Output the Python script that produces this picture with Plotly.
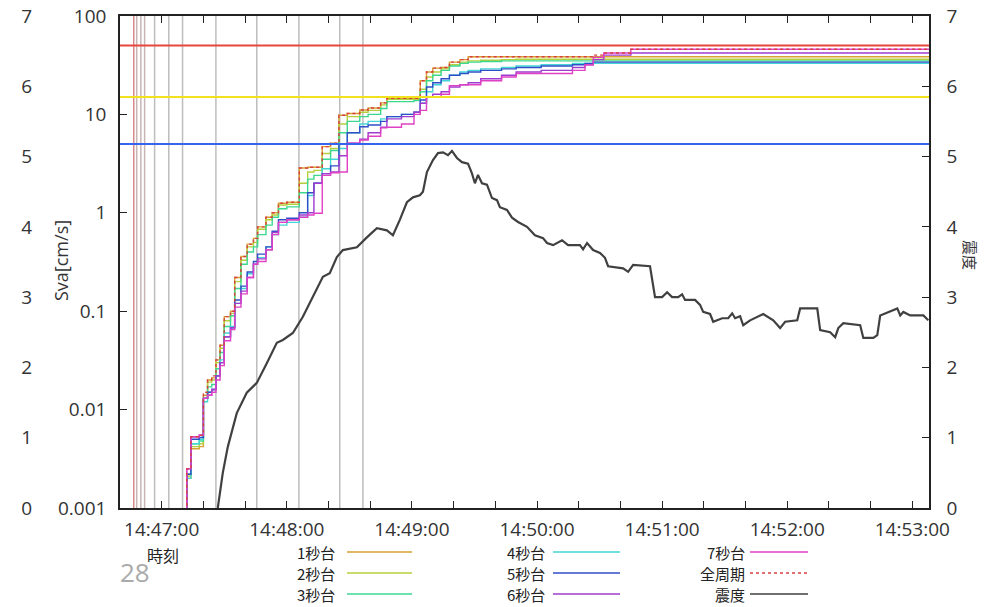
import pandas as pd
import plotly.graph_objects as go

# ---------------- data ----------------
BASE = "2011-03-11 14:47:00"
# common time grid for Sva series (seconds after 14:47:00)
SVA_T = [10, 12, 14, 18, 20, 22, 24, 26, 28, 30,
         33, 35, 38, 41, 44, 46, 50, 53, 56, 60,
         66, 70, 73, 77, 81, 85, 89, 95, 99, 105,
         108, 115, 121, 124, 127, 130, 134, 138, 143, 147,
         153, 163, 170, 182, 197, 203, 207, 212, 225, 369]

sva_1s = [0.0005, 0.002, 0.004, 0.0042, 0.014, 0.02, 0.021, 0.032, 0.045, 0.088,
          0.1, 0.22, 0.36, 0.48, 0.55, 0.72, 0.9, 1.0, 1.25, 1.28,
          2.85, 2.9, 2.9, 4.7, 5.1, 9.8, 10.2, 11.1, 11.6, 13.1,
          14.6, 14.6, 14.6, 22, 27, 29.5, 30, 34, 36, 38.5,
          38.5, 38.5, 38.5, 38.5, 38.5, 38.5, 38.5, 38.5, 38.5, 38.5]
sva_2s = [0.0005, 0.0021, 0.0042, 0.0045, 0.013, 0.019, 0.02, 0.03, 0.042, 0.08,
          0.095, 0.2, 0.33, 0.45, 0.5, 0.68, 0.85, 0.95, 1.2, 1.22,
          2.0, 2.6, 2.7, 4.0, 4.5, 8.0, 9.5, 10.5, 11.0, 12.5,
          14.2, 14.2, 14.2, 18, 24, 27, 29, 32, 34, 35,
          35.5, 36, 36.3, 36.3, 36.3, 36.3, 36.3, 36.3, 36.3, 36.3]
sva_3s = [0.0005, 0.0022, 0.0045, 0.0048, 0.013, 0.017, 0.018, 0.026, 0.038, 0.07,
          0.09, 0.17, 0.3, 0.4, 0.45, 0.6, 0.75, 0.9, 1.1, 1.15,
          1.6, 2.2, 2.4, 3.5, 4.3, 6.5, 8.5, 9.5, 10, 11.5,
          13.5, 13.5, 13.8, 17, 22, 25, 28, 31, 33, 34,
          34.5, 35, 35, 35, 35, 35, 35, 35, 35, 35]
sva_4s = [0.0005, 0.002, 0.0045, 0.005, 0.012, 0.015, 0.016, 0.022, 0.032, 0.06,
          0.07, 0.12, 0.17, 0.24, 0.3, 0.35, 0.45, 0.6, 0.75, 0.8,
          0.9, 1.5, 2.0, 2.8, 3.5, 4.5, 6.5, 8.0, 8.5, 9.0,
          9.5, 10, 10.5, 13, 17, 20, 22, 25, 27, 28,
          29, 30, 31, 32, 33, 33, 33, 33, 33, 33]
sva_5s = [0.0005, 0.0022, 0.005, 0.0052, 0.013, 0.015, 0.016, 0.022, 0.03, 0.055,
          0.068, 0.13, 0.18, 0.25, 0.32, 0.38, 0.45, 0.65, 0.85, 0.88,
          1.0, 1.6, 2.0, 2.5, 3.0, 5.0, 6.5, 7.5, 7.8, 8.5,
          9.5, 10, 10.5, 14, 19, 21, 23, 25, 26, 27,
          28, 29, 30, 31, 32, 33, 34, 34, 34, 34]
sva_6s = [0.0005, 0.0025, 0.0053, 0.0055, 0.013, 0.014, 0.016, 0.022, 0.03, 0.055,
          0.068, 0.12, 0.16, 0.22, 0.3, 0.34, 0.42, 0.63, 0.8, 0.85,
          0.95, 1.0, 2.0, 2.5, 2.6, 3.8, 5.1, 5.6, 6.5, 7.4,
          9.0, 9.5, 10.5, 13, 15, 16, 17, 19, 20, 21,
          23, 25, 27, 28, 30, 32, 36, 40, 42, 42]
sva_7s = [0.0005, 0.0025, 0.0053, 0.0055, 0.013, 0.014, 0.015, 0.02, 0.028, 0.05,
          0.065, 0.11, 0.15, 0.22, 0.3, 0.32, 0.42, 0.6, 0.8, 0.85,
          0.9, 0.95, 0.99, 2.4, 2.55, 2.6, 5.1, 5.5, 6, 7.3,
          7.4, 8, 10, 11, 15, 15, 16, 19.6, 20, 20,
          22, 24, 26, 26, 28, 32, 38, 42, 46, 46]
sva_all = [0.0005, 0.0025, 0.0053, 0.0055, 0.015, 0.02, 0.022, 0.032, 0.045, 0.088,
           0.1, 0.22, 0.36, 0.48, 0.55, 0.72, 0.9, 1.0, 1.25, 1.28,
           2.85, 2.9, 2.9, 4.7, 5.1, 9.8, 10.2, 11.1, 11.6, 13.1,
           14.6, 14.6, 14.6, 22, 27, 29.5, 30, 34, 36, 38.5,
           38.5, 38.5, 38.5, 38.5, 38.5, 38.5, 40, 42, 46, 46]

# seismic intensity (震度)
INT_T = [26.9, 29.3, 31.7, 36, 40.8, 45.6, 50.4, 55.2, 58.1, 62.9,
         67.7, 72.5, 77.3, 80.6, 84, 86.9, 93.6, 98.4, 103.2, 108,
         110.9, 114.2, 117.6, 120.5, 123.8, 125.3, 127.2, 130.1, 132.5, 134.9,
         137.3, 139.2, 141.6, 144, 146.9, 148.8, 150.2, 151.7, 153.6, 156,
         158.4, 160.8, 162.2, 165.6, 168, 170.9, 175.2, 179, 182.9, 184.8,
         187.7, 192, 194.9, 200.6, 202.1, 204, 206.9, 210.2, 212.6, 214.1,
         217.4, 221.3, 223.7, 226.1, 234.2, 235.7, 236.6, 240, 242.4, 244.8,
         247.7, 249.6, 251, 255.8, 258.2, 259.7, 263, 264.5, 268.8, 271.7,
         273.6, 275, 277.4, 278.9, 282.2, 288.5, 293.3, 296.6, 299, 304.8,
         306.2, 314.4, 315.8, 320.6, 323, 324.5, 326.9, 335, 336.5, 341.3,
         343.2, 344.6, 352.8, 354.2, 355.7, 359, 365.3, 367.7]
INT_V = [0, 0.5, 0.87, 1.35, 1.64, 1.78, 2.06, 2.35, 2.39, 2.49,
         2.72, 3.0, 3.29, 3.34, 3.57, 3.67, 3.71, 3.85, 3.98, 3.95,
         3.88, 4.1, 4.35, 4.42, 4.45, 4.5, 4.78, 4.95, 5.05, 5.06,
         5.02, 5.08, 4.98, 4.92, 4.9, 4.76, 4.62, 4.74, 4.62, 4.6,
         4.41, 4.38, 4.28, 4.24, 4.13, 4.07, 4.0, 3.88, 3.84, 3.77,
         3.74, 3.81, 3.74, 3.74, 3.68, 3.77, 3.67, 3.63, 3.56, 3.44,
         3.43, 3.41, 3.36, 3.46, 3.44, 3.14, 3.0, 3.0, 3.07, 3.0,
         3.0, 3.04, 2.96, 2.96, 2.89, 2.79, 2.76, 2.65, 2.7, 2.7,
         2.77, 2.7, 2.73, 2.6, 2.67, 2.76, 2.67, 2.56, 2.65, 2.67,
         2.84, 2.84, 2.53, 2.5, 2.43, 2.56, 2.63, 2.6, 2.42, 2.42,
         2.46, 2.74, 2.84, 2.74, 2.79, 2.74, 2.74, 2.67]

# event times (vertical lines), seconds after 14:47:00
EVENT_S = [-13.4, -12, -10, -8.2, -3.4, 3.4, 10, 26, 45.6, 65.8, 85.4, 96.5]
# threshold levels [cm/s]
LEVELS = [50, 15, 5]
LEVEL_COLORS = ["#e8463c", "#f2e21e", "#3464f0"]

SERIES_NAMES = ["1秒台", "2秒台", "3秒台", "4秒台", "5秒台", "6秒台", "7秒台", "全周期"]
SERIES_VALUES = [sva_1s, sva_2s, sva_3s, sva_4s, sva_5s, sva_6s, sva_7s, sva_all]
SERIES_COLORS = ["#d9a032", "#b4d03c", "#3cd890", "#44d6d6", "#2f4fc8", "#a03cd0", "#e040c4", "#d84040"]
X_TICKS = ["14:47:00", "14:48:00", "14:49:00", "14:50:00", "14:51:00", "14:52:00", "14:53:00"]
SVA_TICKS = [0.001, 0.01, 0.1, 1, 10, 100]
SVA_TICKTEXT = ["0.001", "0.01", "0.1", "1", "10", "100"]

# ---------------- helpers ----------------
base = pd.Timestamp(BASE)
def tt(s):
    return base + pd.Timedelta(seconds=s)

W, H = 998, 607
ML, MR, MT, MB = 0, 69, 16, 99
PW = W - ML - MR
PH = H - MT - MB
def px(x):
    return (x - ML) / PW
def py(y):
    return (H - MB - y) / PH

fig = go.Figure()

# vertical event lines
for i, s in enumerate(EVENT_S):
    col = "#d88a8a" if i == 0 else ("#c9b4b4" if i < 4 else "#bdbdbd")
    fig.add_shape(type="line", x0=tt(s), x1=tt(s), y0=0, y1=1, xref="x", yref="y domain",
                  line=dict(color=col, width=1.5), layer="below")

# threshold lines
for lv, c in zip(LEVELS, LEVEL_COLORS):
    fig.add_hline(y=lv, line=dict(color=c, width=2))

sva_x = [tt(s) for s in SVA_T]
for name, vals, col in zip(SERIES_NAMES, SERIES_VALUES, SERIES_COLORS):
    dash = "dot" if name == "全周期" else "solid"
    fig.add_trace(go.Scatter(x=sva_x, y=vals, mode="lines", name=name,
                             line=dict(color=col, width=1.4, shape="hv", dash=dash),
                             showlegend=False))

int_x = [tt(s) for s in INT_T]
fig.add_trace(go.Scatter(x=int_x, y=INT_V, mode="lines", name="震度", yaxis="y2",
                         line=dict(color="#404040", width=2.2), showlegend=False))
# invisible trace to carry the far-left intensity scale
fig.add_trace(go.Scatter(x=int_x, y=INT_V, mode="lines", yaxis="y3",
                         line=dict(width=0), hoverinfo="skip", showlegend=False))

tickfont = dict(family="Open Sans, Noto Sans, sans-serif", size=19, color="#333333")

fig.update_layout(
    width=W, height=H,
    margin=dict(l=ML, r=MR, t=MT, b=MB),
    paper_bgcolor="white", plot_bgcolor="white",
    showlegend=False,
    xaxis=dict(
        domain=[px(120), 1],
        type="date",
        range=[tt(-20), tt(368)],
        tickvals=[tt(60 * i) for i in range(7)],
        ticktext=X_TICKS,
        ticks="inside", ticklen=7, tickcolor="#222",
        minor=dict(ticks="inside", ticklen=4, dtick=20000, tickcolor="#222"),
        showline=True, linecolor="#222", linewidth=1.5, mirror="allticks",
        showgrid=False, zeroline=False,
        tickfont=tickfont, ticklabelstandoff=3,
    ),
    yaxis=dict(
        type="log", range=[-3, 2],
        tickvals=SVA_TICKS, ticktext=SVA_TICKTEXT,
        ticks="inside", ticklen=7, tickcolor="#222",
        showline=True, linecolor="#222", linewidth=1.5, mirror=True,
        showgrid=False, zeroline=False,
        tickfont=tickfont, ticklabelstandoff=8,
    ),
    yaxis2=dict(
        overlaying="y", side="right", range=[0, 7], dtick=1,
        ticks="inside", ticklen=7, tickcolor="#222",
        showline=True, linecolor="#222", linewidth=1.5,
        showgrid=False, zeroline=False,
        tickfont=tickfont, ticklabelstandoff=12,
    ),
    yaxis3=dict(
        overlaying="y", side="left", anchor="free", position=px(32),
        range=[0, 7], dtick=1, ticks="", showline=False,
        showgrid=False, zeroline=False,
        tickfont=tickfont,
    ),
)

cjk = "Noto Sans CJK JP"
ann = []
def add_text(x, y, text, size, color="#222", family=cjk, angle=0, xanchor="center"):
    ann.append(dict(x=px(x), y=py(y), text=text, textangle=angle, showarrow=False,
                    xref="paper", yref="paper", xanchor=xanchor, yanchor="middle",
                    font=dict(family=family, size=size, color=color)))

add_text(61, 261, "Sva[cm/s]", 18, "#333", "Open Sans, Noto Sans", -90)
add_text(970, 255, "震度", 15, "#333", cjk, 90)
add_text(135, 572, "28", 26, "#aaaaaa", "Open Sans")
add_text(163, 555, "時刻", 16)

legend_items = [("1秒台", SERIES_COLORS[0], "solid"), ("2秒台", SERIES_COLORS[1], "solid"),
                ("3秒台", SERIES_COLORS[2], "solid"), ("4秒台", SERIES_COLORS[3], "solid"),
                ("5秒台", SERIES_COLORS[4], "solid"), ("6秒台", SERIES_COLORS[5], "solid"),
                ("7秒台", SERIES_COLORS[6], "solid"), ("全周期", SERIES_COLORS[7], "dot"),
                ("震度", "#404040", "solid")]
col_text_right = [337, 547, 747]
col_line = [(347, 412), (553, 620), (750, 808)]
row_y = [552, 573, 594]
for i, (lab, col, dash) in enumerate(legend_items):
    c, r = i // 3, i % 3
    add_text(col_text_right[c], row_y[r], lab, 15, xanchor="right")
    fig.add_shape(type="line", xref="paper", yref="paper",
                  x0=px(col_line[c][0]), x1=px(col_line[c][1]), y0=py(row_y[r]), y1=py(row_y[r]),
                  line=dict(color=col, width=1.6, dash=dash))
fig.update_layout(annotations=ann)

fig.write_html("out.html", config={"displayModeBar": False},
               post_script="document.body.style.margin='0';")
